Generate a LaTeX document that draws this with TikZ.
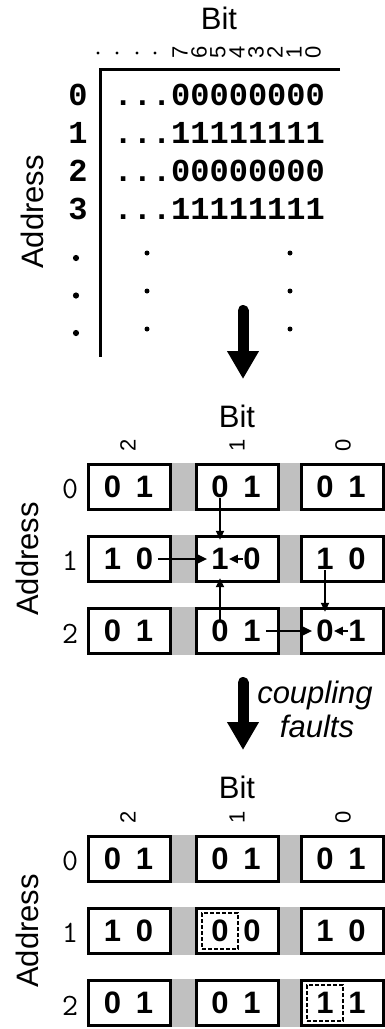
\documentclass[tikz,border=0pt]{standalone}
\usepackage{fontspec}
\setmainfont{Liberation Sans}
\setmonofont{Liberation Mono}
\newfontfamily\addrfont{Latin Modern Mono}
\usetikzlibrary{
    arrows.meta
}
\definecolor{gapgray}{RGB}{192,192,192}
\tikzset{
  every node/.style={
    inner sep=0pt
  },
  heading/.style={anchor=base, font=\fontsize{31}{31}\selectfont},
  sidelabel/.style={rotate=90, font=\fontsize{31}{31}\selectfont},
  bitnum/.style={rotate=90, font=\fontsize{22}{22}\selectfont},
  word/.style={anchor=base west, font=\fontsize{32}{32}\selectfont\ttfamily\bfseries},
  wordaddr/.style={anchor=base, font=\fontsize{32}{32}\selectfont\ttfamily\bfseries},
  rowaddr/.style={font=\fontsize{31}{31}\selectfont\addrfont},
  axisline/.style={line width=3pt},
  cellbox/.style={draw, fill=white, line width=3pt, minimum width=82pt, minimum height=45pt},
  bitval/.style={minimum width=16pt, minimum height=22pt, font=\fontsize{31}{31}\selectfont\bfseries},
  gap/.style={fill=gapgray},
  flow/.style={line width=2pt, -{Triangle[length=9pt,width=8pt]}},
  vflow/.style={flow, shorten >=8pt},
  hflow/.style={flow, shorten <=5pt, shorten >=4pt},
  bigarrow/.style={line width=11pt, line cap=round, -{Triangle[length=28pt,width=30pt]}},
  faultmark/.style={draw, line width=2pt, dash pattern=on 4pt off 2pt, minimum width=36pt, minimum height=36pt},
  fault/.style={font=\fontsize{31}{31}\selectfont\itshape, anchor=base}
}

% one memory cell: box with the stored value and the read value
\newcommand{\memcell}[5]{%
  \node[cellbox] (#1) at (#2,#3) {};
  \node[bitval] (#1a) at (#2-17,#3) {#4};
  \node[bitval] (#1b) at (#2+15,#3) {#5};
}

\begin{document}
\begin{tikzpicture}[x=1pt, y=-1pt]

    \useasboundingbox (0,0) rectangle (385,1029);

    %-------------------------
    % word layout, all bits
    %-------------------------
    \node[heading] (bitA) at (219,29) {Bit};
    \node[sidelabel] (addrA) at (32,212) {Address};

    \foreach \x in {98,117,137,155}
        \fill (\x,53) circle (1.7);
    \foreach \b [count=\i from 0] in {7,6,5,4,3,2,1,0}
        \node[bitnum] (n\b) at (180+19*\i,52.5) {\b};

    \draw[axisline] (340,69.3) -- (100,69.3) -- (100,357);

    \node[wordaddr] (a0) at (78,105.5) {0};
    \node[wordaddr] (a1) at (78,143.5) {1};
    \node[wordaddr] (a2) at (78,181.5) {2};
    \node[wordaddr] (a3) at (78,219.5) {3};

    \node[word] (d0) at (113.4,105.5) {...00000000};
    \node[word] (d1) at (113.4,143.5) {...11111111};
    \node[word] (d2) at (113.4,181.5) {...00000000};
    \node[word] (d3) at (113.4,219.5) {...11111111};

    \foreach \y in {258,295.5,333}
        \fill (76,\y) circle (3.1);
    \foreach \y in {253,291,329} {
        \fill (147,\y) circle (2.5);
        \fill (290,\y) circle (2.5);
    }

    \coordinate (go1) at (243,310.5);
    \coordinate (end1) at (243,379);
    \draw[bigarrow] (go1) -- (end1);

    %-------------------------
    % three bits, written value and coupling
    %-------------------------
    \node[heading] (bitB) at (237,427) {Bit};
    \node[bitnum] (wb2) at (128,445) {2};
    \node[bitnum] (wb1) at (237,445) {1};
    \node[bitnum] (wb0) at (343,445) {0};
    \node[sidelabel] (addrB) at (27,559) {Address};
    \node[rowaddr] (wa0) at (70,489) {0};
    \node[rowaddr] (wa1) at (70,561) {1};
    \node[rowaddr] (wa2) at (70,634) {2};

    \memcell{w02}{129.5}{487}{0}{1}
    \memcell{w01}{237}{487}{0}{1}
    \memcell{w00}{342}{487}{0}{1}
    \memcell{w12}{129.5}{559}{1}{0}
    \memcell{w11}{237}{559}{1}{0}
    \memcell{w10}{342}{559}{1}{0}
    \memcell{w22}{129.5}{631}{0}{1}
    \memcell{w21}{237}{631}{0}{1}
    \memcell{w20}{342}{631}{0}{1}

    \fill[gap] (w02.north east) rectangle (w01.south west);
    \fill[gap] (w01.north east) rectangle (w00.south west);
    \fill[gap] (w12.north east) rectangle (w11.south west);
    \fill[gap] (w11.north east) rectangle (w10.south west);
    \fill[gap] (w22.north east) rectangle (w21.south west);
    \fill[gap] (w21.north east) rectangle (w20.south west);

    \draw[vflow] (w01a.south) -- (w11a.north);
    \draw[hflow] (w12b.east) -- (w11a.west);
    \draw[flow] (w11b.west) -- (w11a.east);
    \draw[vflow] (w21a.north) -- (w11a.south);
    \draw[vflow] (w10a.south) -- (w20a.north);
    \draw[hflow] (w21b.east) -- (w20a.west);
    \draw[flow] (w20b.west) -- (w20a.east);

    \coordinate (go2) at (243,682.5);
    \coordinate (end2) at (243,750);
    \draw[bigarrow] (go2) -- (end2);
    \node[fault] (cf1) at (315,703) {coupling};
    \node[fault] (cf2) at (317,737) {faults};

    %-------------------------
    % three bits, value read back
    %-------------------------
    \node[heading] (bitC) at (237,798) {Bit};
    \node[bitnum] (rb2) at (128,817) {2};
    \node[bitnum] (rb1) at (237,817) {1};
    \node[bitnum] (rb0) at (343,817) {0};
    \node[sidelabel] (addrC) at (27,931) {Address};
    \node[rowaddr] (ra0) at (70,861) {0};
    \node[rowaddr] (ra1) at (70,933) {1};
    \node[rowaddr] (ra2) at (70,1006) {2};

    \memcell{r02}{129.5}{859}{0}{1}
    \memcell{r01}{237}{859}{0}{1}
    \memcell{r00}{342}{859}{0}{1}
    \memcell{r12}{129.5}{931}{1}{0}
    \memcell{r11}{237}{931}{0}{0}
    \memcell{r10}{342}{931}{1}{0}
    \memcell{r22}{129.5}{1003}{0}{1}
    \memcell{r21}{237}{1003}{0}{1}
    \memcell{r20}{342}{1003}{1}{1}

    \fill[gap] (r02.north east) rectangle (r01.south west);
    \fill[gap] (r01.north east) rectangle (r00.south west);
    \fill[gap] (r12.north east) rectangle (r11.south west);
    \fill[gap] (r11.north east) rectangle (r10.south west);
    \fill[gap] (r22.north east) rectangle (r21.south west);
    \fill[gap] (r21.north east) rectangle (r20.south west);

    \node[faultmark] (m11) at (r11a) {};
    \node[faultmark] (m20) at (r20a) {};

\end{tikzpicture}
\end{document}
